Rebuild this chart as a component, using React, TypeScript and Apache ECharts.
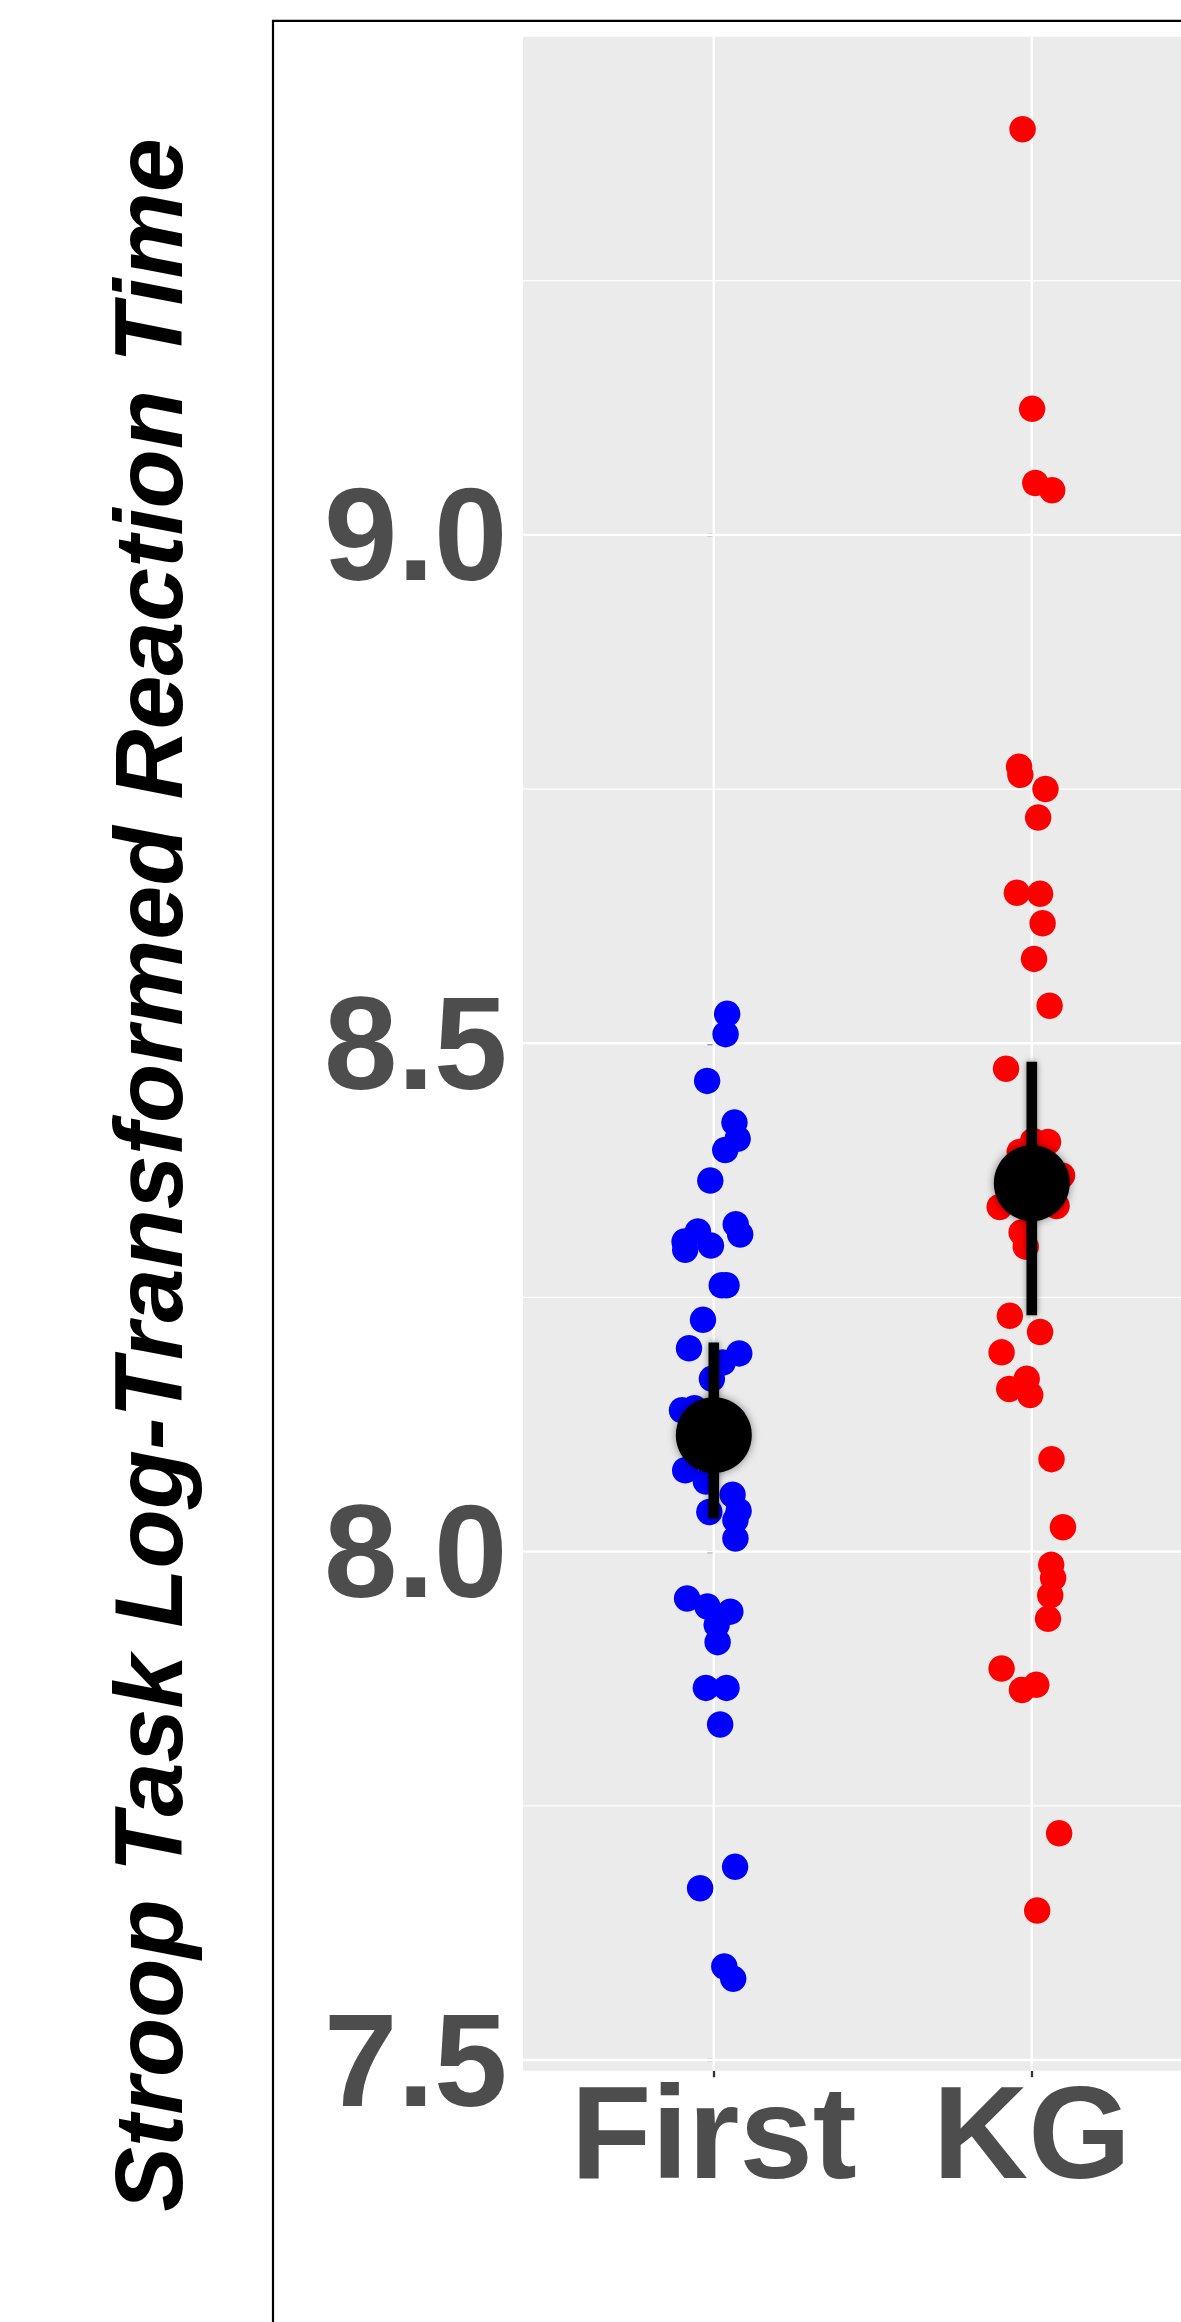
import React, { useEffect, useRef } from "react";
import * as echarts from "echarts";

// ---- data ----
const categories = ["First", "KG"];
const yTicks = [7.5, 8.0, 8.5, 9.0];
const yMinorTicks = [7.75, 8.25, 8.75, 9.25];
const yMin = 7.4895;
const yMax = 9.49;

// jitter offset (category units) and log RT for each child
const firstPoints: [number, number][] = [
  [0.042, 8.529], [0.037, 8.509], [-0.021, 8.463], [0.065, 8.422], [0.075, 8.406],
  [0.036, 8.395], [-0.011, 8.365], [0.069, 8.322], [0.083, 8.312], [-0.05, 8.315],
  [-0.092, 8.305], [-0.09, 8.297], [-0.009, 8.301], [0.025, 8.262], [0.04, 8.262],
  [-0.034, 8.228], [-0.078, 8.2], [0.08, 8.195], [0.028, 8.186], [-0.006, 8.17],
  [-0.1, 8.139], [-0.061, 8.141], [0.06, 8.13], [0.02, 8.1], [-0.09, 8.08],
  [-0.025, 8.069], [0.059, 8.056], [0.078, 8.04], [-0.014, 8.039], [0.068, 8.031],
  [0.068, 8.013], [-0.084, 7.954], [-0.02, 7.946], [0.052, 7.941], [0.009, 7.928],
  [0.012, 7.911], [-0.025, 7.866], [0.04, 7.866], [0.02, 7.83], [0.067, 7.69],
  [-0.043, 7.669], [0.033, 7.592], [0.061, 7.58],
];

const kgPoints: [number, number][] = [
  [-0.029, 9.399], [0.001, 9.124], [0.011, 9.051], [0.064, 9.044],
  [-0.04, 8.772], [-0.036, 8.764], [0.043, 8.75], [0.02, 8.722], [-0.047, 8.648],
  [0.026, 8.647], [0.034, 8.618], [0.007, 8.583], [0.056, 8.537], [-0.081, 8.475],
  [0.051, 8.403], [0.004, 8.404], [-0.038, 8.393], [-0.101, 8.339], [0.078, 8.34],
  [-0.032, 8.314], [-0.019, 8.3], [0.095, 8.37], [-0.069, 8.232], [0.026, 8.216],
  [-0.095, 8.196], [-0.016, 8.17], [-0.071, 8.16], [-0.005, 8.154], [0.062, 8.091],
  [0.098, 8.024], [0.061, 7.987], [0.067, 7.974], [0.058, 7.957], [0.051, 7.934],
  [-0.095, 7.885], [-0.031, 7.864], [0.014, 7.869], [0.086, 7.723], [0.017, 7.647],
];

const means = [8.1146, 8.3624];
const ciLow = [8.0327, 8.2325];
const ciHigh = [8.2056, 8.4819];

const pointColors = ["#0000FF", "#FF0000"];

const FONT = '"Liberation Sans", Arial, Helvetica, sans-serif';

function buildOption() {
  const groups = [firstPoints, kgPoints];
  const pointSeries = groups.map((pts, gi) => ({
    type: "scatter",
    name: categories[gi],
    z: 3,
    symbol: "circle",
    symbolSize: 26.5,
    silent: true,
    itemStyle: { color: pointColors[gi], opacity: 1 },
    data: pts.map(([dx, v]) => [gi + dx, v]),
  }));

  return {
    animation: false,
    grid: {
      left: 523,
      top: 36.7,
      width: 699.6,
      height: 2034,
      show: true,
      backgroundColor: "#EBEBEB",
      borderWidth: 0,
    },
    xAxis: {
      type: "value",
      min: -0.6,
      max: 1.6,
      axisLine: { show: false },
      splitLine: { show: false },
      axisTick: {
        show: true,
        customValues: [0, 1],
        length: 6.5,
        lineStyle: { color: "#333333", width: 2.3 },
      },
      axisLabel: {
        customValues: [0, 1],
        formatter: (v: number) => categories[Math.round(v)] ?? "",
        fontSize: 132,
        fontWeight: "bold",
        fontFamily: FONT,
        color: "#4D4D4D",
        margin: -4,
      },
    },
    yAxis: {
      type: "value",
      min: yMin,
      max: yMax,
      axisLine: { show: false },
      splitLine: { show: false },
      axisTick: {
        show: true,
        customValues: yTicks,
        length: 6.5,
        lineStyle: { color: "#333333", width: 2.3 },
      },
      axisLabel: {
        customValues: yTicks,
        formatter: (v: number) => v.toFixed(1),
        fontSize: 132,
        fontWeight: "bold",
        fontFamily: FONT,
        color: "#4D4D4D",
        margin: 15.5,
      },
    },
    graphic: [
      {
        type: "rect",
        silent: true,
        shape: { x: 273, y: 20.8, width: 2400, height: 3400 },
        style: { fill: "none", stroke: "#000000", lineWidth: 2.2 },
      },
      {
        type: "text",
        silent: true,
        x: 148,
        y: 1175,
        rotation: Math.PI / 2,
        style: {
          text: "Stroop Task Log-Transformed Reaction Time",
          fontSize: 97,
          fontWeight: "bold",
          fontStyle: "italic",
          fontFamily: FONT,
          fill: "#000000",
          align: "center",
          verticalAlign: "middle",
        },
      },
    ],
    series: [
      {
        type: "custom",
        name: "minorY",
        z: 1,
        silent: true,
        data: yMinorTicks.map((v) => [0, v]),
        encode: { x: 0, y: 1 },
        renderItem: (params: any, api: any) => {
          const cs = params.coordSys;
          const y = api.coord([0, api.value(1)])[1];
          return {
            type: "line",
            shape: { x1: cs.x, y1: y, x2: cs.x + cs.width, y2: y },
            style: { stroke: "#FFFFFF", lineWidth: 1.3 },
          };
        },
      },
      {
        type: "custom",
        name: "majorY",
        z: 1,
        silent: true,
        data: yTicks.map((v) => [0, v]),
        encode: { x: 0, y: 1 },
        renderItem: (params: any, api: any) => {
          const cs = params.coordSys;
          const y = api.coord([0, api.value(1)])[1];
          return {
            type: "line",
            shape: { x1: cs.x, y1: y, x2: cs.x + cs.width, y2: y },
            style: { stroke: "#FFFFFF", lineWidth: 2.4 },
          };
        },
      },
      {
        type: "custom",
        name: "majorX",
        z: 1,
        silent: true,
        data: categories.map((_, i) => [i, 8]),
        encode: { x: 0, y: 1 },
        renderItem: (params: any, api: any) => {
          const cs = params.coordSys;
          const x = api.coord([api.value(0), 8])[0];
          return {
            type: "line",
            shape: { x1: x, y1: cs.y, x2: x, y2: cs.y + cs.height },
            style: { stroke: "#FFFFFF", lineWidth: 2.4 },
          };
        },
      },
      ...pointSeries,
      {
        type: "custom",
        name: "ci",
        z: 4,
        silent: true,
        data: categories.map((_, i) => [i, ciLow[i], ciHigh[i]]),
        encode: { x: 0, y: [1, 2] },
        renderItem: (params: any, api: any) => {
          const lo = api.coord([api.value(0), api.value(1)]);
          const hi = api.coord([api.value(0), api.value(2)]);
          const w = 10.6;
          return {
            type: "rect",
            shape: { x: lo[0] - w / 2, y: hi[1], width: w, height: lo[1] - hi[1] },
            style: {
              fill: "#000000",
              shadowBlur: 6,
              shadowColor: "rgba(0,0,0,0.45)",
            },
          };
        },
      },
      {
        type: "scatter",
        name: "mean",
        z: 5,
        silent: true,
        symbol: "circle",
        symbolSize: 76,
        itemStyle: {
          color: "#000000",
          opacity: 1,
          shadowBlur: 8,
          shadowColor: "rgba(0,0,0,0.45)",
        },
        data: means.map((m, i) => [i, m]),
      },
    ],
  };
}

export default function App() {
  const ref = useRef<HTMLDivElement>(null);
  useEffect(() => {
    if (!ref.current) return;
    const chart = echarts.init(ref.current, null, { renderer: "svg" });
    chart.setOption(buildOption() as any);
    return () => {
      chart.dispose();
    };
  }, []);
  return (
    <div
      style={{
        position: "absolute",
        left: 0,
        top: 0,
        width: 1181,
        height: 2322,
        overflow: "hidden",
        background: "#FFFFFF",
      }}
    >
      <div ref={ref} style={{ width: 1500, height: 2322 }} />
    </div>
  );
}
